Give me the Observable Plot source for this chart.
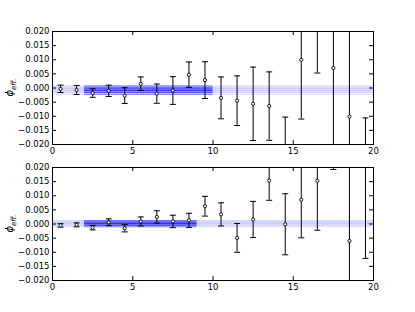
<!DOCTYPE html>
<html><head><meta charset="utf-8">
<script src="https://cdn.jsdelivr.net/npm/d3@7"></script>
<script src="https://cdn.jsdelivr.net/npm/@observablehq/plot@0.6"></script>
<style>
body{margin:0;background:#fff}
#c{position:relative;width:415px;height:312px;background:#fff}
svg{display:block}
</style>
</head><body><div id="c"></div>
<script>
// ---- data ----
const xs = [0.5,1.5,2.5,3.5,4.5,5.5,6.5,7.5,8.5,9.5,10.5,11.5,12.5,13.5,14.5,15.5,16.5,17.5,18.5,19.5];
const topVal = [-0.0003,-0.0007,-0.0018,-0.0010,-0.0027,0.0015,-0.0020,-0.0009,0.0047,0.0028,-0.0035,-0.0045,-0.0056,-0.0064,-0.0240,0.0100,0.0250,0.0071,-0.0101,-0.0300];
const topErr = [0.0013,0.0016,0.0015,0.0020,0.0028,0.0024,0.0034,0.0049,0.0045,0.0065,0.0074,0.0088,0.0130,0.0121,0.0137,0.0210,0.0197,0.0320,0.0350,0.0194];
const botVal = [-0.0005,-0.0003,-0.0013,0.0006,-0.0015,0.0009,0.0025,0.0009,0.0013,0.0063,0.0034,-0.0049,0.0016,0.0154,-0.0001,0.0086,0.0153,0.0300,-0.0060,0.0250];
const botErr = [0.0006,0.0007,0.0008,0.0012,0.0013,0.0016,0.0022,0.0022,0.0025,0.0035,0.0041,0.0051,0.0064,0.0070,0.0108,0.0135,0.0175,0.0107,0.0300,0.0372];
// band: [center, inner half-width, outer half-width]
const topBand = [-0.0008, 0.0008, 0.0015];
const botBand = [0.0001, 0.0006, 0.0011];
// fitted x-range of the darker band
const topSpan = [2, 10];
const botSpan = [2, 9];
const fullSpan = [0, 20];
const yTicks = [-0.020,-0.015,-0.010,-0.005,0.000,0.005,0.010,0.015,0.020];
const xTicks = [0,5,10,15,20];
const yLabelMain = "ϕ";
const yLabelSub = "eff.";

const W = 415, ML = 52, MR = 42;
const PW = W - ML - MR;
const PH = 113;
const FONT = "DejaVu Sans";

const capSymbol = {
  draw(ctx, size) {
    const w = Math.sqrt(size) / 2;
    ctx.moveTo(-w, 0); ctx.lineTo(w, 0);
  }
};

function panel(vals, errs, band, span, height, mt, mb) {
  const rows = xs.map((x, i) => ({x, v: vals[i], lo: vals[i] - errs[i], hi: vals[i] + errs[i]}));
  const [c, e1, e2] = band;
  const bandRegion = (s, fo1, fo2, so1, so2, sc) => [
    Plot.rect([s], {x1: d => d[0], x2: d => d[1], y1: c - e2, y2: c + e2, fill: "#0000ff", fillOpacity: fo1}),
    Plot.rect([s], {x1: d => d[0], x2: d => d[1], y1: c - e1, y2: c + e1, fill: "#0000ff", fillOpacity: fo2}),
    Plot.ruleY([c - e2, c + e2], {x1: s[0], x2: s[1], stroke: "#0000ff", strokeOpacity: so1}),
    Plot.ruleY([c - e1, c + e1], {x1: s[0], x2: s[1], stroke: "#0000ff", strokeOpacity: so2}),
    Plot.ruleY([c], {x1: s[0], x2: s[1], stroke: sc})
  ];
  return Plot.plot({
    width: W, height,
    marginLeft: ML, marginRight: MR, marginTop: mt, marginBottom: mb,
    style: {fontFamily: FONT, fontSize: "8.5px", color: "#000", background: "#fff", overflow: "visible"},
    x: {domain: [0, 20], ticks: xTicks, label: null},
    y: {domain: [-0.02, 0.02], ticks: yTicks, label: null},
    marks: [
      ...bandRegion(fullSpan, 0.06, 0.06, 0.12, 0.12, "#c8c8ff"),
      ...bandRegion(span, 0.18, 0.25, 0.4, 0.55, "#2222dd"),
      Plot.ruleX(rows, {x: "x", y1: "lo", y2: "hi", stroke: "#000", strokeWidth: 1, clip: true}),
      Plot.dot(rows, {x: "x", y: "lo", symbol: capSymbol, r: 3.4, stroke: "#000", strokeWidth: 1, clip: true}),
      Plot.dot(rows, {x: "x", y: "hi", symbol: capSymbol, r: 3.4, stroke: "#000", strokeWidth: 1, clip: true}),
      Plot.dot(rows, {x: "x", y: "v", r: 1.6, fill: "#fff", stroke: "#000", strokeWidth: 0.9, clip: true}),
      Plot.tickY(yTicks, {y: d => d, insetRight: PW - 4, stroke: "#000"}),
      Plot.tickY(yTicks, {y: d => d, insetLeft: PW - 4, stroke: "#000"}),
      Plot.tickX(xTicks, {x: d => d, insetTop: PH - 4, stroke: "#000"}),
      Plot.tickX(xTicks, {x: d => d, insetBottom: PH - 4, stroke: "#000"}),
      Plot.axisY(yTicks, {tickSize: 0, tickPadding: 3, tickFormat: d3.format(".3f"), fontSize: 8.5}),
      Plot.axisX(xTicks, {tickSize: 0, tickPadding: 3, tickFormat: d3.format("d"), fontSize: 8.5}),
      Plot.frame({stroke: "#000"})
    ]
  });
}

function addLabel(svg, cy) {
  const t = d3.select(svg).append("text")
    .attr("transform", `translate(13,${cy}) rotate(-90)`)
    .attr("text-anchor", "middle")
    .attr("font-family", FONT)
    .attr("font-style", "italic")
    .attr("fill", "#000");
  t.append("tspan").attr("font-size", "10px").text(yLabelMain);
  t.append("tspan").attr("font-size", "7px").attr("dy", "2.5").text(yLabelSub);
}

const c = document.getElementById("c");
const H1 = 160;
const p1 = panel(topVal, topErr, topBand, topSpan, H1, 31, H1 - 31 - PH);
const H2 = 312 - H1;
const p2 = panel(botVal, botErr, botBand, botSpan, H2, 7, H2 - 7 - PH);
addLabel(p1, 31 + PH / 2);
addLabel(p2, 7 + PH / 2);
c.append(p1, p2);
</script>
</body></html>
